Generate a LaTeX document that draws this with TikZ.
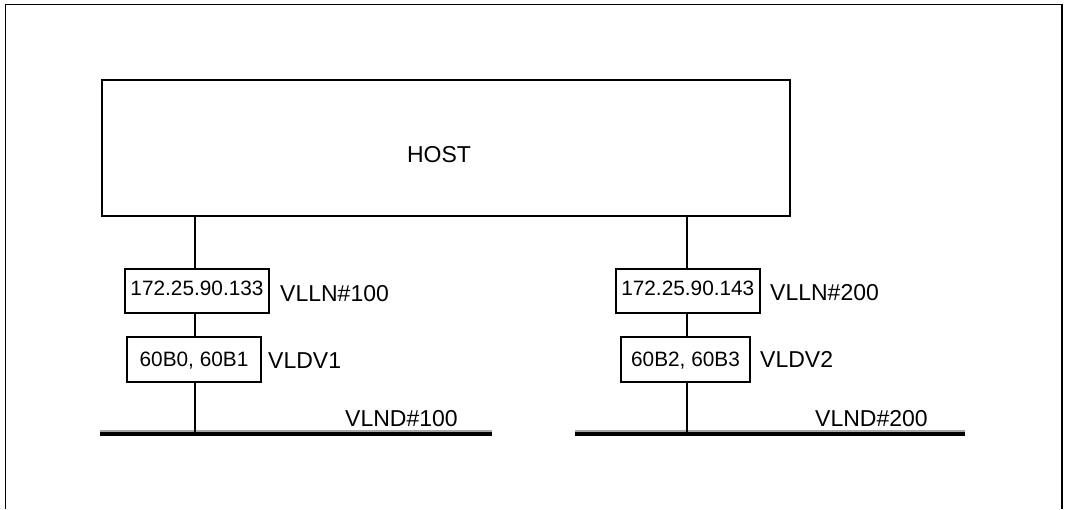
\documentclass[tikz,border=0pt]{standalone}
\usepackage{fontspec}
\setmainfont{Liberation Sans}
\newcommand\boxfs{\fontsize{20.8}{25}\selectfont}
\newcommand\lblfs{\fontsize{23}{27}\selectfont}
\begin{document}
\begin{tikzpicture}[x=1pt,y=-1pt,
  frame/.style={line width=1.8pt},
  hostbox/.style={draw,line width=2pt,inner sep=0pt},
  ipbox/.style={draw,line width=1.8pt,inner sep=0pt,font=\boxfs},
  lbl/.style={anchor=base west,inner sep=0pt,font=\lblfs},
  link/.style={line width=1.6pt},
  bus/.style={line width=3.6pt},
  busshadow/.style={line width=1.4pt,draw=black!35}]
\useasboundingbox (0,0) rectangle (1067,509);
% outer frame
\draw[frame] (5.5,509) -- (5.5,4.5) -- (1062,4.5) -- (1062,509);
% host
\node[hostbox,minimum width=688,minimum height=135.7] (host) at (445.8,147.9) {};
\node[anchor=base,inner sep=0pt,font=\lblfs] (hostlabel) at (439,162.3) {HOST};
% left branch
\node[ipbox,minimum width=144,minimum height=44,text height=10pt,text depth=2.6pt] (ip1) at (197,291.3) {172.25.90.133};
\node[ipbox,minimum width=133.4,minimum height=45,text height=15pt,text depth=1.4pt] (dv1) at (194,359.2) {60B0, 60B1};
\node[lbl] (lln1) at (280,301) {VLLN\#100};
\node[lbl] (ldv1) at (268,368.3) {VLDV1};
\node[lbl] (lnd1) at (345,426) {VLND\#100};
\coordinate (b1w) at (100,434);
\coordinate (b1e) at (492,434);
\coordinate (j1) at (195,434);
\draw[busshadow] ([yshift=3pt]b1w) -- ([yshift=3pt]b1e);
\draw[bus] (b1w) -- (b1e);
\draw[link] (host.south -| j1) -- (ip1.north -| j1);
\draw[link] (ip1.south -| j1) -- (dv1.north -| j1);
\draw[link] (dv1.south -| j1) -- (j1);
% right branch
\node[ipbox,minimum width=144.3,minimum height=44,text height=10pt,text depth=2pt] (ip2) at (687.8,291) {172.25.90.143};
\node[ipbox,minimum width=129,minimum height=45,text height=15pt,text depth=1pt] (dv2) at (685.5,359.5) {60B2, 60B3};
\node[lbl] (lln2) at (770,300) {VLLN\#200};
\node[lbl] (ldv2) at (760,367) {VLDV2};
\node[lbl] (lnd2) at (815,426) {VLND\#200};
\coordinate (b2w) at (575,434);
\coordinate (b2e) at (965,434);
\coordinate (j2) at (686.7,434);
\draw[busshadow] ([yshift=3pt]b2w) -- ([yshift=3pt]b2e);
\draw[bus] (b2w) -- (b2e);
\draw[link] (host.south -| j2) -- (ip2.north -| j2);
\draw[link] (ip2.south -| j2) -- (dv2.north -| j2);
\draw[link] (dv2.south -| j2) -- (j2);
\end{tikzpicture}
\end{document}
